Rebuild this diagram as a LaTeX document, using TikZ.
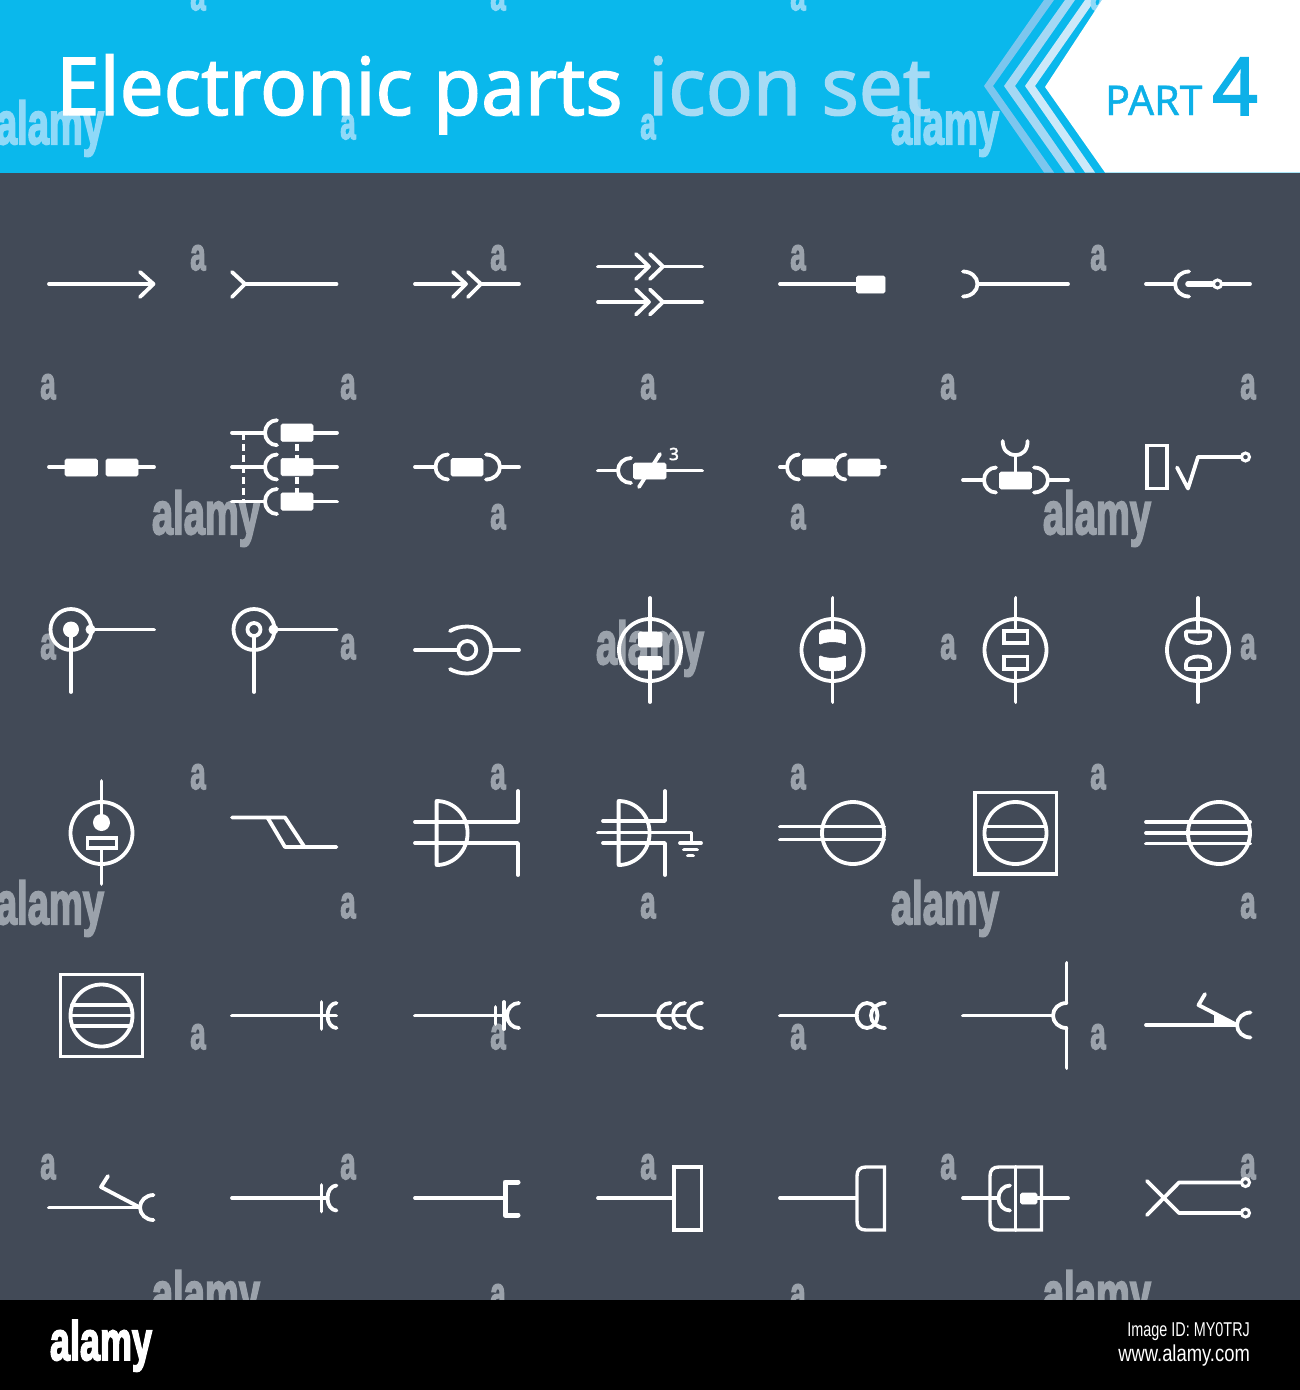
\documentclass[tikz,border=0pt]{standalone}
\usepackage{fontspec}
\setmainfont[BoldFeatures={FakeBold=3.5}]{Liberation Sans}
\newfontfamily\hdfont[FakeBold=1.7]{Noto Sans}
\newfontfamily\partfont[FakeBold=1.0]{Noto Sans}
\newfontfamily\fourfont[FakeBold=2.0]{Noto Sans}
\newfontfamily\threefont[FakeBold=2.5]{Noto Sans}
\definecolor{bodybg}{HTML}{424A57}
\definecolor{cyanbar}{HTML}{0AB8EC}
\definecolor{partblue}{HTML}{0DB0E8}
\definecolor{titlelight}{HTML}{A6DBF5}
\definecolor{stripeA}{HTML}{7CC6EE}
\definecolor{stripeB}{HTML}{A5D8F4}
\definecolor{stripeC}{HTML}{CCE9F9}
\definecolor{wmdark}{HTML}{9BA2AB}
\definecolor{wmcyan}{HTML}{8FD9F8}
\tikzset{
  ic/.style={draw=white,line width=3.8pt,line cap=round,line join=round},
  thin ic/.style={draw=white,line width=3.4pt,line cap=round,line join=miter},
  solidwhite/.style={fill=white,draw=white,line width=.6pt,rounded corners=1.5pt},
  dashline/.style={draw=white,line width=3.2pt,dash pattern=on 7pt off 4pt},
  wmword/.style={font=\bfseries\fontsize{60}{60}\selectfont,inner sep=0pt,anchor=base,xscale=.635},
  wmletter/.style={font=\bfseries\fontsize{46}{46}\selectfont,inner sep=0pt,anchor=base,xscale=.6},
  titletext/.style={inner sep=0pt,anchor=base west,font=\hdfont\fontsize{80}{80}\selectfont,xscale=.975},
}
% filled box x1 y1 x2 y2
\newcommand{\fbx}[4]{\path[solidwhite] (#1,#2) rectangle (#3,#4);}
% curved contact: vertex x, tip x, y
\newcommand{\carc}[3]{\draw[ic] (#2,#3-12.5) .. controls (#1+0.45*#2-0.45*#1,#3-12.5) and (#1,#3-7) .. (#1,#3) .. controls (#1,#3+7) and (#1+0.45*#2-0.45*#1,#3+12.5) .. (#2,#3+12.5);}
% half disc on a vertical bar: x, y centre
\newcommand{\dshape}[2]{\draw[ic] (#1,#2-32) .. controls (#1+17,#2-32) and (#1+31,#2-18) .. (#1+31,#2) .. controls (#1+31,#2+18) and (#1+17,#2+32) .. (#1,#2+32) -- cycle;}
\begin{document}
\begin{tikzpicture}[x=1pt,y=-1pt]
\useasboundingbox (0,0) rectangle (1300,1390);
\begin{scope}
\clip (0,0) rectangle (1300,1390);
% backgrounds
\fill[bodybg] (0,172) rectangle (1300,1300);
\fill[cyanbar] (0,0) rectangle (1300,172.5);
\fill[stripeA] (1044,0) -- (984,86) -- (1044,172.5) -- (1054,172.5) -- (993,86) -- (1054,0) -- cycle;
\fill[stripeB] (1065,0) -- (1004,86) -- (1065,172.5) -- (1075,172.5) -- (1015,86) -- (1075,0) -- cycle;
\fill[stripeC] (1085,0) -- (1025,86) -- (1085,172.5) -- (1095,172.5) -- (1035,86) -- (1095,0) -- cycle;
% header watermarks
\foreach \x/\y in {50/144,945/144}
  \node[wmword,text=wmcyan] (wm-\x-\y) at (\x,\y) {alamy};
\foreach \x/\y in {198/10,498/10,798/10,1098/10,348/139,648/139}
  \node[wmletter,text=wmcyan] (wa-\x-\y) at (\x,\y) {a};
\fill[white] (1102,0) -- (1045,87) -- (1105,172.5) -- (1300,172.5) -- (1300,0) -- cycle;
% title
\node[titletext,text=white] (title) at (56,115) {Electronic parts};
\node[titletext,text=titlelight] (titleb) at (648,115) {icon set};
\node[inner sep=0pt,anchor=base west,text=partblue,font=\partfont\fontsize{41}{41}\selectfont] (part) at (1105,115) {PART};
\node[inner sep=0pt,anchor=base west,text=partblue,font=\fourfont\fontsize{80}{80}\selectfont] (four) at (1212,115) {4};
% body watermarks
\foreach \x/\y in {206/534,1097/534,650/664,50/924,945/924,206/1314,1097/1314}
  \node[wmword,text=wmdark] (wm-\x-\y) at (\x,\y) {alamy};
\foreach \x/\y in {
  198/270,498/270,798/270,1098/270,
  48/399,348/399,648/399,948/399,1248/399,
  498/529,798/529,
  48/659,348/659,948/659,1248/659,
  198/789,498/789,798/789,1098/789,
  348/918,648/918,1248/918,
  198/1049,498/1049,798/1049,1098/1049,
  48/1179,348/1179,648/1179,948/1179,1248/1179,
  498/1309,798/1309}
  \node[wmletter,text=wmdark] (wa-\x-\y) at (\x,\y) {a};
% ROW 1
\draw[ic] (49,284) -- (153,284);
\draw[ic] (140,272) -- (153.5,284) -- (140,297);
\draw[ic] (232,272) -- (245,284) -- (232,297);
\draw[ic] (245,284) -- (336.5,284);
\draw[ic] (415,284) -- (465,284);
\draw[ic] (453,272) -- (466,284) -- (453,297);
\draw[ic] (468,272) -- (481,284) -- (468,297);
\draw[ic] (481,284) -- (519,284);
\foreach \yy in {266.5,302}{
  \draw[ic] (598,\yy) -- (648,\yy);
  \draw[ic] (636,\yy-12.5) -- (649,\yy) -- (636,\yy+12.5);
  \draw[ic] (650,\yy-12.5) -- (663,\yy) -- (650,\yy+12.5);
  \draw[ic] (663,\yy) -- (702,\yy);
}
\draw[ic] (780,284) -- (857,284);
\fbx{856.5}{276}{885}{293}
\carc{977.5}{963}{284}
\draw[ic] (977.5,284) -- (1068,284);
\draw[ic] (1146,284) -- (1175,284);
\carc{1175}{1189}{284}
\draw[draw=white,line width=5.6pt,line cap=round] (1188,284) -- (1212,284);
\draw[ic] (1222,284) -- (1250,284);
\draw[draw=white,line width=3pt] (1217.5,284) circle[radius=4];
% ROW 2
\draw[ic] (49,467) -- (65,467);
\fbx{65}{459}{97.5}{476}
\fbx{106}{459}{138}{476}
\draw[ic] (138,467) -- (154,467);
\draw[dashline] (243.5,433) -- (243.5,502);
\draw[dashline] (297,433) -- (297,502);
\foreach \yy in {432.7,467,501.5}{
  \draw[ic] (232,\yy) -- (265,\yy);
  \carc{265}{277}{\yy}
  \fbx{281}{\yy-8.7}{313}{\yy+8.7}
  \draw[ic] (313,\yy) -- (337,\yy);
}
\draw[ic] (415,467) -- (435.5,467);
\carc{435.5}{448}{467}
\fbx{451}{458.5}{483}{476}
\carc{500}{486}{467}
\draw[ic] (500,467) -- (519,467);
\draw[ic] (598,470.5) -- (618,470.5);
\carc{618}{631}{470.5}
\fbx{633.5}{463}{666}{479}
\draw[ic] (660,454) -- (639,487);
\draw[ic] (666,470.5) -- (702,470.5);
\node[inner sep=0pt,text=white,font=\threefont\fontsize{17}{17}\selectfont] (three) at (674,454) {3};
\draw[ic] (780,467) -- (787,467);
\carc{787}{799}{467}
\fbx{802.5}{459}{834.5}{476}
\carc{834.5}{845.5}{467}
\fbx{848}{459}{880}{476}
\draw[ic] (880,467) -- (885,467);
\draw[ic] (963,480) -- (984,480);
\carc{984}{996}{480}
\fbx{999.5}{472}{1031.5}{489}
\carc{1048}{1034}{480}
\draw[ic] (1048,480) -- (1068,480);
\draw[ic] (1015.5,472) -- (1015.5,455);
\draw[ic] (1002.7,441) .. controls (1002.7,450) and (1008,455) .. (1015.5,455) .. controls (1023,455) and (1027.6,450) .. (1027.6,441);
\draw[thin ic] (1147,445.5) rectangle (1167,488.5);
\draw[ic] (1177,467.5) -- (1188,488.5) -- (1198,457) -- (1241,457);
\draw[draw=white,line width=3pt] (1245.5,457) circle[radius=4];
% ROW 3
\draw[ic] (71,629.5) circle[radius=20.5];
\fill[white] (71,629.5) circle[radius=8];
\draw[ic] (71,630) -- (71,692);
\fill[white] (90.5,629.5) circle[radius=5];
\draw[ic] (92,629.5) -- (154,629.5);
\draw[ic] (254,629.5) circle[radius=20.5];
\draw[ic] (254,629.5) circle[radius=6.5];
\draw[ic] (254,636) -- (254,692);
\fill[white] (273.5,629.5) circle[radius=5];
\draw[ic] (275,629.5) -- (336.5,629.5);
\draw[ic] (415,650) -- (458,650);
\draw[ic] (467.3,650) circle[radius=9];
\draw[ic] (450,631) .. controls (455,628) and (461,626.5) .. (467.5,626.5) .. controls (480.5,626.5) and (491,637) .. (491,650) .. controls (491,663) and (480.5,673.5) .. (467.5,673.5) .. controls (461,673.5) and (455,672) .. (450,669);
\draw[ic] (491,650) -- (519,650);
% four tube symbols
\draw[ic] (650,650) circle[radius=31];
\draw[ic] (650,598) -- (650,632);
\draw[ic] (650,670) -- (650,702);
\fbx{638.5}{632}{662}{647}
\fbx{638.5}{656.5}{662}{670}
\draw[ic] (832.5,650) circle[radius=31];
\draw[ic] (832.5,598) -- (832.5,630);
\draw[ic] (832.5,670) -- (832.5,702);
\path[solidwhite] (819.5,632) .. controls (824,629) and (841,629) .. (845.5,632) -- (845.5,645) .. controls (840,641) and (825,641) .. (819.5,645) -- cycle;
\path[solidwhite] (819.5,655) .. controls (825,659) and (840,659) .. (845.5,655) -- (845.5,668) .. controls (841,671.5) and (824,671.5) .. (819.5,668) -- cycle;
\draw[ic] (1015.5,650) circle[radius=31];
\draw[ic] (1015.5,598) -- (1015.5,631);
\draw[ic] (1015.5,669) -- (1015.5,702);
\draw[thin ic] (1004,631) rectangle (1027.5,643);
\draw[thin ic] (1004,656.5) rectangle (1027.5,669);
\draw[ic] (1198,650) circle[radius=31];
\draw[ic] (1198,598) -- (1198,631.5);
\draw[ic] (1198,669) -- (1198,702);
\draw[ic] (1186,631.5) -- (1210,631.5) -- (1210,636) .. controls (1210,641) and (1204,643) .. (1198,643) .. controls (1192,643) and (1186,641) .. (1186,636) -- cycle;
\draw[ic] (1186,669) -- (1210,669) -- (1210,664) .. controls (1210,659) and (1204,656.5) .. (1198,656.5) .. controls (1192,656.5) and (1186,659) .. (1186,664) -- cycle;
% ROW 4
\draw[ic] (101.5,833) circle[radius=31];
\draw[ic] (101.5,781) -- (101.5,815);
\fill[white] (101.5,822.5) circle[radius=8.5];
\draw[thin ic] (87.5,838) rectangle (116.5,848);
\draw[ic] (101.5,848) -- (101.5,884);
\draw[ic] (232,817.5) -- (285,817.5) -- (304.5,847);
\draw[ic] (267.5,817.5) -- (285,847) -- (336.5,847);
\dshape{436.6}{833}
\draw[ic] (415,822) -- (518,822) -- (518,791);
\draw[ic] (415,843) -- (518,843) -- (518,875);
\dshape{618.6}{833}
\draw[ic] (603,821) -- (665,821) -- (665,791);
\draw[ic] (603,843) -- (665,843) -- (665,875);
\draw[ic] (598,832.5) -- (691.5,832.5) -- (691.5,842);
\draw[ic] (680,843) -- (701,843);
\draw[ic] (684,849.5) -- (697,849.5);
\draw[ic] (688,855.5) -- (693,855.5);
\draw[ic] (853,833) circle[radius=31];
\draw[ic] (780,826.5) -- (884,826.5);
\draw[ic] (780,839.5) -- (884,839.5);
\draw[thin ic] (975,792.5) rectangle (1056.5,874);
\draw[ic] (1015.5,833) circle[radius=31];
\draw[ic] (986,826.5) -- (1045,826.5);
\draw[ic] (986,839.5) -- (1045,839.5);
\draw[ic] (1219,833) circle[radius=31];
\draw[ic] (1146,822) -- (1250,822);
\draw[ic] (1146,833) -- (1250,833);
\draw[ic] (1146,843.5) -- (1250,843.5);
% ROW 5
\draw[thin ic] (60.5,974.5) rectangle (142.5,1056.5);
\draw[ic] (101.5,1015.5) circle[radius=31];
\draw[ic] (72,1005) -- (131,1005);
\draw[ic] (71,1015.5) -- (132,1015.5);
\draw[ic] (72,1026) -- (131,1026);
\draw[ic] (232,1015.5) -- (336,1015.5);
\draw[ic] (321.5,1002) -- (321.5,1029);
\carc{327.5}{336.5}{1015.5}
\draw[ic] (415,1015.5) -- (507,1015.5);
\draw[ic] (495.5,1007) -- (495.5,1024);
\draw[ic] (504,1002) -- (504,1029);
\carc{507}{519}{1015.5}
\draw[ic] (598,1015.5) -- (688,1015.5);
\carc{658}{670.5}{1015.5}
\carc{673}{685}{1015.5}
\carc{688}{702}{1015.5}
\draw[ic] (780,1015.5) -- (857,1015.5);
\draw[ic] (867,1015.5) ellipse[x radius=10.5,y radius=12.5];
\carc{871}{885}{1015.5}
\draw[ic] (963,1015.5) -- (1053,1015.5);
\draw[ic] (1066.5,963) -- (1066.5,1003);
\draw[ic] (1066.5,1028) -- (1066.5,1068);
\carc{1053}{1066.5}{1015.5}
\draw[ic] (1146,1025) -- (1237,1025);
\carc{1237}{1250.5}{1025}
\draw[ic] (1205,994) -- (1198.5,1005) -- (1237,1025);
\fill[white] (1214,1012) -- (1214,1025) -- (1237,1025) -- cycle;
% ROW 6
\draw[ic] (49,1207.5) -- (140,1207.5);
\carc{140}{153.5}{1207.5}
\draw[ic] (108,1176) -- (101,1187) -- (140,1207.5);
\draw[ic] (232,1198) -- (327.5,1198);
\draw[ic] (321.5,1185) -- (321.5,1211.5);
\carc{327.5}{336.5}{1198}
\draw[ic] (415,1198) -- (505,1198);
\draw[draw=white,line width=5pt,line cap=round,line join=round] (518,1182) -- (505,1182) -- (505,1215) -- (518,1215);
\draw[ic] (598,1198) -- (674,1198);
\draw[thin ic] (674,1167) rectangle (701.5,1230);
\draw[ic] (780,1198) -- (856,1198);
\draw[thin ic] (884.5,1167) -- (884.5,1230) -- (866,1230) .. controls (860,1230) and (857,1227) .. (857,1221) -- (857,1176) .. controls (857,1170) and (860,1167) .. (866,1167) -- cycle;
\draw[ic] (963,1198) -- (998.5,1198);
\carc{998.5}{1010}{1198}
\draw[thin ic] (1041.5,1167) -- (1041.5,1230) -- (999,1230) .. controls (993,1230) and (990,1227) .. (990,1221) -- (990,1176) .. controls (990,1170) and (993,1167) .. (999,1167) -- cycle;
\draw[ic] (1015.5,1167) -- (1015.5,1230);
\fbx{1020.5}{1193}{1037}{1204}
\draw[ic] (1037,1198) -- (1068,1198);
\draw[ic] (1147,1215) -- (1179,1182.5) -- (1241,1182.5);
\draw[ic] (1147,1181) -- (1179,1213) -- (1241,1213);
\draw[draw=white,line width=3pt] (1245.5,1182.5) circle[radius=4];
\draw[draw=white,line width=3pt] (1245.5,1213) circle[radius=4];
% footer
\fill[black] (0,1300) rectangle (1300,1390);
\node[inner sep=0pt,anchor=base,text=white,xscale=.654,font=\bfseries\fontsize{55}{55}\selectfont] (logo) at (101,1360) {alamy};
\node[inner sep=0pt,anchor=east,text=white,xscale=.72,font=\fontsize{20}{20}\selectfont] (imgid) at (1250,1332) {Image ID: MY0TRJ};
\node[inner sep=0pt,anchor=east,text=white,xscale=.8,font=\fontsize{23}{23}\selectfont] (site) at (1250,1356) {www.alamy.com};
\end{scope}
\end{tikzpicture}
\end{document}
